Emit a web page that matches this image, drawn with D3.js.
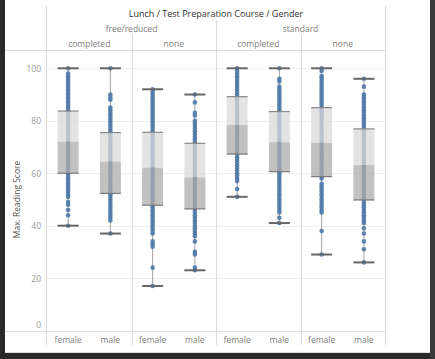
<!DOCTYPE html>
<html><head><meta charset="utf-8">
<script src="https://cdn.jsdelivr.net/npm/d3@7"></script>
<style>
html,body{margin:0;padding:0;background:#2a2a2a;}
svg{display:block;}
</style></head><body>
<script>
const lunchGroups = ["free/reduced", "standard"];
const prepGroups = ["completed", "none"];
const genders = ["female", "male"];
const yTicks = [0, 20, 40, 60, 80, 100];

// box statistics per column (order: lunch > prep > gender)
const q1Values     = [60, 52.3, 47.8, 46.4, 67.3, 60.6, 58.7, 49.8];
const medianValues = [72, 64.4, 62.1, 58.4, 78.4, 71.8, 71.6, 63.1];
const q3Values     = [83.7, 75.5, 75.6, 71.4, 89.2, 83.5, 85, 76.9];
const whiskerLow   = [40, 37, 17, 23, 51, 41, 29, 26];
const whiskerHigh  = [100, 100, 92, 90, 100, 100, 100, 96];

// distinct observed scores per column
const pts_fr_comp_f = [100,98,97,96,95,94,93,92,91,90,89,88,87,86,85,84,83,82,81,80,79,78,77,76,75,74,73,72,71,70,69,68,67,66,65,64,63,62,61,60,59,58,57,56,55,54,53,52,51,49,48,46,44,40];
const pts_fr_comp_m = [100,90,89,88,85,84,83,82,81,80,79,78,77,76,75,74,73,72,71,70,69,68,67,66,65,64,63,62,61,60,59,58,57,56,55,54,53,52,51,50,49,48,47,46,45,44,43,42,37];
const pts_fr_none_f = [92,91,90,89,88,87,86,85,84,83,82,81,80,79,78,77,76,75,74,73,72,71,70,69,68,67,66,65,64,63,62,61,60,59,58,57,56,55,54,53,52,51,50,49,48,47,46,45,44,43,42,41,40,39,38,37,34,33,32,24,17];
const pts_fr_none_m = [90,87,83,82,80,79,78,77,76,75,74,73,72,71,70,69,68,67,66,65,64,63,62,61,60,59,58,57,56,55,54,53,52,51,50,49,48,47,46,45,44,43,42,41,40,39,38,37,36,34,30,29,24,23];
const pts_st_comp_f = [100,99,98,97,96,95,94,93,92,91,90,89,88,87,86,85,84,83,82,81,80,79,78,77,76,75,74,73,72,71,70,69,68,67,66,65,64,63,62,61,60,59,58,57,54,51];
const pts_st_comp_m = [100,96,95,93,92,91,90,89,88,87,86,85,84,83,82,81,80,79,78,77,76,75,74,73,72,71,70,69,68,67,66,65,64,63,62,61,60,59,58,57,56,55,54,53,52,51,50,49,48,47,46,45,43,41];
const pts_st_none_f = [100,99,97,96,95,94,93,92,91,90,89,88,87,86,85,84,83,82,81,80,79,78,77,76,75,74,73,72,71,70,69,68,67,66,65,64,63,62,61,60,59,58,56,55,54,53,52,51,50,49,48,47,46,45,38,29];
const pts_st_none_m = [96,93,90,89,88,87,86,85,84,83,82,81,80,79,78,77,76,75,74,73,72,71,70,69,68,67,66,65,64,63,62,61,60,59,58,57,56,55,54,53,52,51,50,49,48,47,46,45,44,43,42,41,39,37,34,31,26];
const pointLists = [pts_fr_comp_f, pts_fr_comp_m, pts_fr_none_f, pts_fr_none_m, pts_st_comp_f, pts_st_comp_m, pts_st_none_f, pts_st_none_m];

const W = 435, H = 359;
const font = "'Open Sans', 'Noto Sans', sans-serif";
const svg = d3.select("body").append("svg").attr("width", W).attr("height", H);

svg.append("rect").attr("x", 5).attr("y", 0).attr("width", 425).attr("height", 353).attr("fill", "#fff");
svg.append("rect").attr("x", 430).attr("y", 0).attr("width", 5).attr("height", H).attr("fill", "#3a3a3a");
svg.append("line").attr("x1", 5).attr("x2", 430).attr("y1", 352.5).attr("y2", 352.5).attr("stroke", "#ddd");

const plotL = 47, plotR = 385, plotT = 50, plotB = 331;
const columns = [];
lunchGroups.forEach(l => prepGroups.forEach(p => genders.forEach(g => columns.push({l, p, g}))));
columns.forEach((c, i) => {
  c.key = i; c.q1 = q1Values[i]; c.med = medianValues[i]; c.q3 = q3Values[i];
  c.lo = whiskerLow[i]; c.hi = whiskerHigh[i]; c.pts = pointLists[i];
});

const x = d3.scaleBand().domain(columns.map(c => c.key)).range([plotL, plotR]).padding(0);
const y = d3.scaleLinear().domain([0, 100]).range([330.6, 68.3]);
const xPrep = d3.scaleBand().domain(d3.range(lunchGroups.length * prepGroups.length)).range([plotL, plotR]);
const xLunch = d3.scaleBand().domain(lunchGroups).range([plotL, plotR]);

svg.append("g").selectAll("line").data(yTicks.filter(t => t > 0)).join("line")
  .attr("x1", plotL).attr("x2", plotR).attr("y1", d => Math.round(y(d)) + 0.5).attr("y2", d => Math.round(y(d)) + 0.5)
  .attr("stroke", "#efefef").attr("stroke-width", 1);

const lineC = "#dcdcdc";
svg.append("line").attr("x1", 5).attr("x2", plotR).attr("y1", plotT + 0.5).attr("y2", plotT + 0.5).attr("stroke", lineC);
svg.append("line").attr("x1", 5).attr("x2", plotR).attr("y1", plotB + 0.5).attr("y2", plotB + 0.5).attr("stroke", lineC);
svg.append("line").attr("x1", plotL - 0.5).attr("x2", plotL - 0.5).attr("y1", 5).attr("y2", 345).attr("stroke", lineC);
svg.append("line").attr("x1", plotR + 0.5).attr("x2", plotR + 0.5).attr("y1", 5).attr("y2", 345).attr("stroke", lineC);
xPrep.domain().slice(1).forEach(i => {
  const xx = Math.round(xPrep(i)) + 0.5;
  const isLunch = i % prepGroups.length === 0;
  svg.append("line").attr("x1", xx).attr("x2", xx).attr("y1", isLunch ? 20 : 35).attr("y2", 345).attr("stroke", lineC);
});

svg.append("text").attr("x", (plotL + plotR) / 2).attr("y", 16.5).attr("text-anchor", "middle")
  .attr("font-family", font).attr("font-size", 9).attr("fill", "#333")
  .text("Lunch / Test Preparation Course / Gender");
svg.append("g").selectAll("text").data(lunchGroups).join("text")
  .attr("x", d => xLunch(d) + xLunch.bandwidth() / 2).attr("y", 31.5).attr("text-anchor", "middle")
  .attr("font-family", font).attr("font-size", 8.5).attr("fill", "#808080").text(d => d);
svg.append("g").selectAll("text").data(xPrep.domain()).join("text")
  .attr("x", d => xPrep(d) + xPrep.bandwidth() / 2).attr("y", 46.5).attr("text-anchor", "middle")
  .attr("font-family", font).attr("font-size", 8.5).attr("fill", "#808080").text(d => prepGroups[d % prepGroups.length]);
svg.append("g").selectAll("text").data(columns).join("text")
  .attr("x", d => x(d.key) + x.bandwidth() / 2).attr("y", 342.5).attr("text-anchor", "middle")
  .attr("font-family", font).attr("font-size", 8.5).attr("fill", "#808080").text(d => d.g);

svg.append("g").selectAll("text").data(yTicks).join("text")
  .attr("x", 41).attr("y", d => Math.min(y(d), 324) + 3.5).attr("text-anchor", "end")
  .attr("font-family", font).attr("font-size", 8.5).attr("fill", "#999").text(d => d);
svg.append("text").attr("transform", `translate(20,${(y(0) + y(100)) / 2}) rotate(-90)`)
  .attr("text-anchor", "middle").attr("font-family", font).attr("font-size", 8.5).attr("fill", "#555")
  .text("Max. Reading Score");

const boxW = 21;
const gBox = svg.append("g").selectAll("g").data(columns).join("g")
  .attr("transform", d => `translate(${x(d.key) + x.bandwidth() / 2},0)`);
gBox.append("line").attr("x1", 0).attr("x2", 0).attr("y1", d => y(d.hi)).attr("y2", d => y(d.lo))
  .attr("stroke", "#a0a0a0").attr("stroke-width", 1);
gBox.each(function(d) {
  d3.select(this).selectAll("circle").data(d.pts).join("circle")
    .attr("cx", 0).attr("cy", v => y(v)).attr("r", 2.3).attr("fill", "#4e79a7").attr("fill-opacity", 0.9);
});
gBox.append("rect").attr("x", -boxW / 2).attr("width", boxW)
  .attr("y", d => y(d.q3)).attr("height", d => y(d.med) - y(d.q3))
  .attr("fill", "#dadada").attr("fill-opacity", 0.75);
gBox.append("rect").attr("x", -boxW / 2).attr("width", boxW)
  .attr("y", d => y(d.med)).attr("height", d => y(d.q1) - y(d.med))
  .attr("fill", "#acacac").attr("fill-opacity", 0.75);
[["q3", "#888", 1.2], ["q1", "#777", 1.2], ["hi", "#666", 2], ["lo", "#666", 2]].forEach(([k, c, w]) => {
  gBox.append("line").attr("x1", -boxW / 2).attr("x2", boxW / 2)
    .attr("y1", d => y(d[k])).attr("y2", d => y(d[k])).attr("stroke", c).attr("stroke-width", w);
});
</script>
</body></html>
